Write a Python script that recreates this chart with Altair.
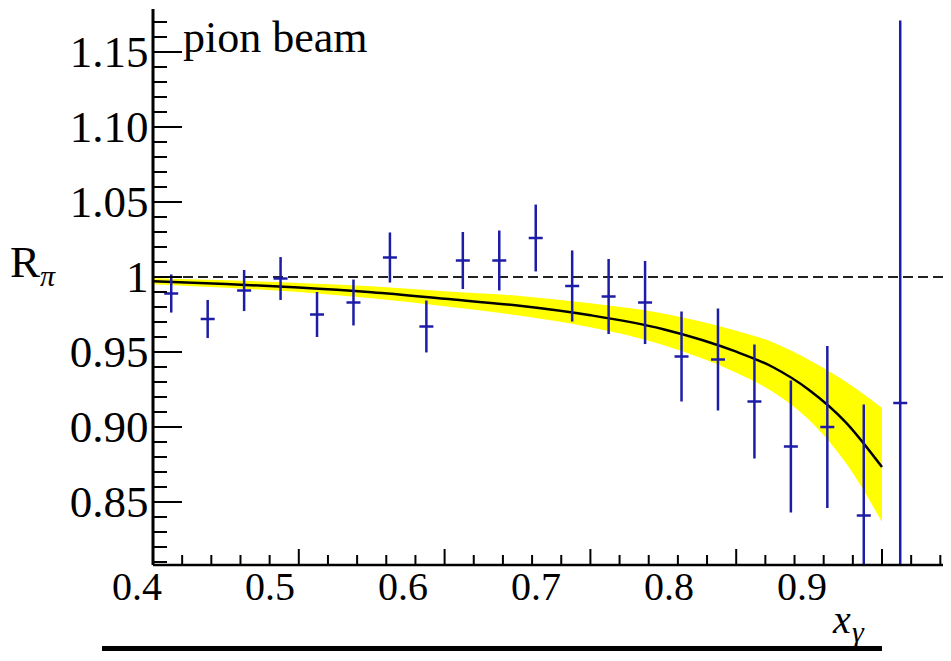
import altair as alt
import pandas as pd

# ---------------- data ----------------
pt_x = [0.4125, 0.4375, 0.4625, 0.4875, 0.5125, 0.5375, 0.5625, 0.5875, 0.6125, 0.6375,
        0.6625, 0.6875, 0.7125, 0.7375, 0.7625, 0.7875, 0.8125, 0.8375, 0.8625, 0.8875, 0.9125]
pt_y = [0.989, 0.972, 0.991, 0.999, 0.975, 0.983, 1.013, 0.967, 1.011, 1.011,
        1.026, 0.994, 0.987, 0.983, 0.947, 0.945, 0.917, 0.887, 0.900, 0.841, 0.916]
pt_err = [0.0127, 0.0127, 0.0137, 0.0143, 0.015, 0.0153, 0.0167, 0.0173, 0.019, 0.020,
          0.0223, 0.0237, 0.025, 0.0277, 0.030, 0.034, 0.038, 0.044, 0.054, 0.074, 0.255]

fit_x = [0.40, 0.45, 0.50, 0.55, 0.60, 0.65, 0.70, 0.75, 0.80, 0.825, 0.85, 0.875, 0.90]
fit_y = [0.9972, 0.9953, 0.9930, 0.9898, 0.9855, 0.9810, 0.9745, 0.9652, 0.9502, 0.9400,
         0.9247, 0.9033, 0.8733]
band_lo = [0.9952, 0.9928, 0.9900, 0.9858, 0.9805, 0.9745, 0.9665, 0.9547, 0.9362, 0.9235,
           0.9047, 0.8763, 0.8367]
band_hi = [0.9992, 0.9978, 0.9960, 0.9938, 0.9905, 0.9875, 0.9825, 0.9757, 0.9642, 0.9565,
           0.9447, 0.9303, 0.9127]

ref_y = [1.0]

y_major = [0.85, 0.90, 0.95, 1.00, 1.05, 1.10, 1.15]
y_minor = [0.81, 0.82, 0.83, 0.84, 0.86, 0.87, 0.88, 0.89, 0.91, 0.92, 0.93, 0.94,
           0.96, 0.97, 0.98, 0.99, 1.01, 1.02, 1.03, 1.04, 1.06, 1.07, 1.08, 1.09,
           1.11, 1.12, 1.13, 1.14, 1.16, 1.17]
x_major = [0.4, 0.5, 0.6, 0.7, 0.8, 0.9]
x_minor = [0.42, 0.44, 0.46, 0.48, 0.52, 0.54, 0.56, 0.58, 0.62, 0.64, 0.66, 0.68,
           0.72, 0.74, 0.76, 0.78, 0.82, 0.84, 0.86, 0.88, 0.92, 0.94]
x_label_vals = [0.4, 0.5, 0.6, 0.7, 0.8, 0.9]
x_label_text = ["0.4", "0.5", "0.6", "0.7", "0.8", "0.9"]

# ---------------- layout ----------------
W, H = 790, 556
XMIN, XMAX = 0.4, 0.4 + W / 1458.0
YMIN, YMAX = 0.808, 1.17867
LX0 = 0.4 + 16 / 1330.0
LX1 = LX0 + W / 1330.0

FONT = "Liberation Serif"
BLUE = "#1c1ca6"

xs = alt.Scale(domain=[XMIN, XMAX], nice=False, zero=False)
ys = alt.Scale(domain=[YMIN, YMAX], nice=False, zero=False)
yaxis = alt.Axis(values=y_major, ticks=False, tickSize=0, domain=False, grid=False,
                 labelFont=FONT, labelFontSize=45, labelColor="black", labelPadding=5,
                 labelExpr="datum.value == 1 ? '1' : format(datum.value, '.2f')",
                 title=None, labelFlush=False, labelOverlap=False)


def X(f):
    return alt.X(f, type="quantitative", scale=xs, axis=None)


def Y(f):
    return alt.Y(f, type="quantitative", scale=ys, axis=yaxis)


pts = pd.DataFrame({"x": pt_x, "y": pt_y, "e": pt_err})
fit = pd.DataFrame({"x": fit_x, "y": fit_y, "lo": band_lo, "hi": band_hi})
one = alt.Data(values=[{}])

band = alt.Chart(fit).mark_area(color="#ffff00", opacity=1, interpolate="monotone").encode(
    x=X("x"), y=Y("lo"), y2="hi")
curve = alt.Chart(fit).mark_line(color="black", strokeWidth=2.5, interpolate="monotone").encode(
    x=X("x"), y=Y("y"))
ref = alt.Chart(pd.DataFrame({"v": ref_y})).mark_rule(
    color="#222222", strokeWidth=2, strokeDash=[10, 5]).encode(
    y=Y("v"), x=alt.value(0), x2=alt.value(W))
bars = alt.Chart(pts).transform_calculate(
    lo="datum.y - datum.e", hi="datum.y + datum.e").mark_rule(
    color=BLUE, strokeWidth=2.5, clip=True).encode(x=X("x"), y=Y("lo"), y2="hi")
centers = alt.Chart(pts).mark_tick(color=BLUE, orient="horizontal", size=14,
                                   thickness=2.5, opacity=1).encode(x=X("x"), y=Y("y"))

ymaj = alt.Chart(pd.DataFrame({"v": y_major})).mark_rule(color="black", strokeWidth=2).encode(
    y=Y("v"), x=alt.value(0), x2=alt.value(29))
ymin = alt.Chart(pd.DataFrame({"v": y_minor})).mark_rule(color="black", strokeWidth=2).encode(
    y=Y("v"), x=alt.value(0), x2=alt.value(14))
xmaj = alt.Chart(pd.DataFrame({"v": x_major})).mark_rule(color="black", strokeWidth=2).encode(
    x=X("v"), y=alt.value(H), y2=alt.value(H - 16))
xmin = alt.Chart(pd.DataFrame({"v": x_minor})).mark_rule(color="black", strokeWidth=2).encode(
    x=X("v"), y=alt.value(H), y2=alt.value(H - 10))

yline = alt.Chart(one).mark_rule(color="black", strokeWidth=3).encode(
    x=alt.value(0), y=alt.value(0), y2=alt.value(H))
xline = alt.Chart(one).mark_rule(color="black", strokeWidth=2.5).encode(
    y=alt.value(H), x=alt.value(0), x2=alt.value(W))

xlabels = alt.Chart(pd.DataFrame({"v": x_label_vals, "t": x_label_text})).mark_text(
    font=FONT, fontSize=40, color="black", align="center", baseline="alphabetic").encode(
    x=alt.X("v:Q", scale=alt.Scale(domain=[LX0, LX1], nice=False, zero=False), axis=None),
    y=alt.value(591), text="t:N")

title_r = alt.Chart(one).mark_text(text="R", font=FONT, fontSize=45, color="black",
                                   align="left", baseline="alphabetic").encode(
    x=alt.value(-143), y=alt.value(268))
title_pi = alt.Chart(one).mark_text(text="π", font=FONT, fontSize=30, color="black",
                                    align="left", baseline="alphabetic", fontStyle="italic").encode(
    x=alt.value(-113), y=alt.value(277))
title_x = alt.Chart(one).mark_text(text="x", font=FONT, fontSize=40, color="black",
                                   align="left", baseline="alphabetic", fontStyle="italic").encode(
    x=alt.value(680), y=alt.value(624))
title_g = alt.Chart(one).mark_text(text="γ", font=FONT, fontSize=30, color="black",
                                   align="left", baseline="alphabetic", fontStyle="italic").encode(
    x=alt.value(699), y=alt.value(633))
pion = alt.Chart(one).mark_text(text="pion beam", font=FONT, fontSize=44, color="black",
                                align="left", baseline="alphabetic").encode(
    x=alt.value(30), y=alt.value(43))
bottom_bar = alt.Chart(one).mark_rule(color="black", strokeWidth=6).encode(
    x=alt.value(-51), x2=alt.value(729), y=alt.value(640))

chart = alt.layer(
    band, curve, ref, bars, centers, ymaj, ymin, xmaj, xmin, yline, xline,
    xlabels, title_r, title_pi, title_x, title_g, pion, bottom_bar
).resolve_scale(x="independent").properties(
    width=W, height=H,
    autosize=alt.AutoSizeParams(type="none"),
    padding={"left": 145, "top": 1, "right": 0, "bottom": 86},
).configure_view(stroke=None)

chart.save("out.html", embed_options={"renderer": "svg", "actions": False})
